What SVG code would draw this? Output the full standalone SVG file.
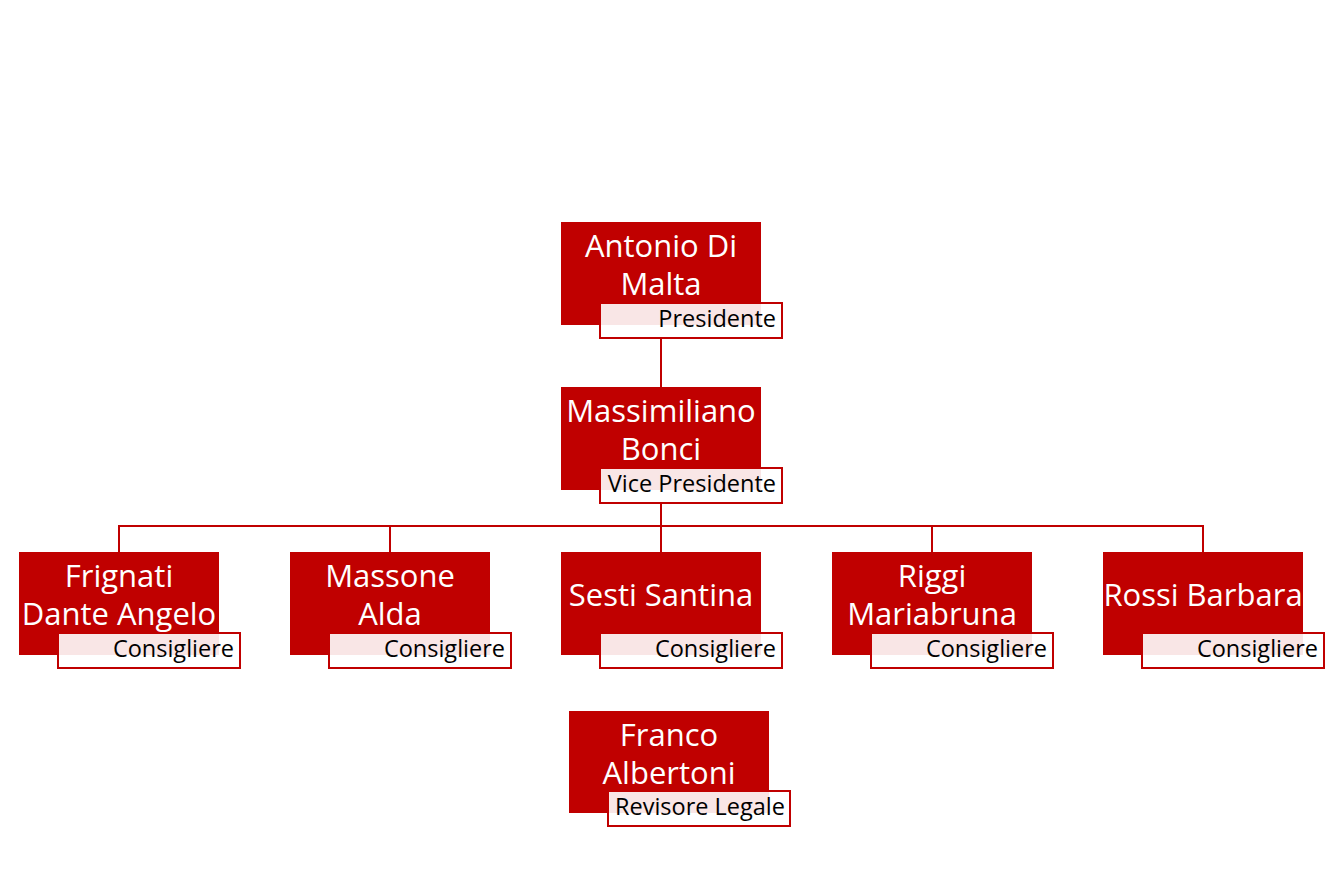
<svg xmlns="http://www.w3.org/2000/svg" width="1338" height="889" viewBox="0 0 1338 889">
<style>
.box{fill:#c00000}
.lab{fill:#ffffff;fill-opacity:0.9;stroke:#c00000;stroke-width:2}
.name{font-family:"Open Sans","Noto Sans",sans-serif;font-size:31px;fill:#ffffff;text-anchor:middle}
.role{font-family:"Open Sans","Noto Sans",sans-serif;font-size:23.5px;fill:#000000;text-anchor:end}
.con{stroke:#c00000;stroke-width:2;fill:none}
</style>
<rect width="1338" height="889" fill="#ffffff"/>
<g id="connectors">
<path class="con" d="M661 338V387"/>
<path class="con" d="M661 503V552"/>
<path class="con" d="M119 552V526H1203V552"/>
<path class="con" d="M390 526V552"/>
<path class="con" d="M932 526V552"/>
</g>
<g id="n1">
<rect class="box" x="561" y="222" width="200" height="103"/>
<text class="name" x="661" y="257">Antonio Di</text>
<text class="name" x="661" y="295">Malta</text>
<rect class="lab" x="600" y="303" width="182" height="35"/>
<text class="role" x="776" y="327">Presidente</text>
</g>
<g id="n2">
<rect class="box" x="561" y="387" width="200" height="103"/>
<text class="name" x="661" y="422">Massimiliano</text>
<text class="name" x="661" y="460">Bonci</text>
<rect class="lab" x="600" y="468" width="182" height="35"/>
<text class="role" x="776" y="492">Vice Presidente</text>
</g>
<g id="n3">
<rect class="box" x="19" y="552" width="200" height="103"/>
<text class="name" x="119" y="587">Frignati</text>
<text class="name" x="119" y="625">Dante Angelo</text>
<rect class="lab" x="58" y="633" width="182" height="35"/>
<text class="role" x="234" y="657">Consigliere</text>
</g>
<g id="n4">
<rect class="box" x="290" y="552" width="200" height="103"/>
<text class="name" x="390" y="587">Massone</text>
<text class="name" x="390" y="625">Alda</text>
<rect class="lab" x="329" y="633" width="182" height="35"/>
<text class="role" x="505" y="657">Consigliere</text>
</g>
<g id="n5">
<rect class="box" x="561" y="552" width="200" height="103"/>
<text class="name" x="661" y="606">Sesti Santina</text>
<rect class="lab" x="600" y="633" width="182" height="35"/>
<text class="role" x="776" y="657">Consigliere</text>
</g>
<g id="n6">
<rect class="box" x="832" y="552" width="200" height="103"/>
<text class="name" x="932" y="587">Riggi</text>
<text class="name" x="932" y="625">Mariabruna</text>
<rect class="lab" x="871" y="633" width="182" height="35"/>
<text class="role" x="1047" y="657">Consigliere</text>
</g>
<g id="n7">
<rect class="box" x="1103" y="552" width="200" height="103"/>
<text class="name" x="1203" y="606">Rossi Barbara</text>
<rect class="lab" x="1142" y="633" width="182" height="35"/>
<text class="role" x="1318" y="657">Consigliere</text>
</g>
<g id="n8">
<rect class="box" x="569" y="711" width="200" height="102"/>
<text class="name" x="669" y="746">Franco</text>
<text class="name" x="669" y="784">Albertoni</text>
<rect class="lab" x="608" y="791" width="182" height="35"/>
<text class="role" x="785" y="815">Revisore Legale</text>
</g>
</svg>
